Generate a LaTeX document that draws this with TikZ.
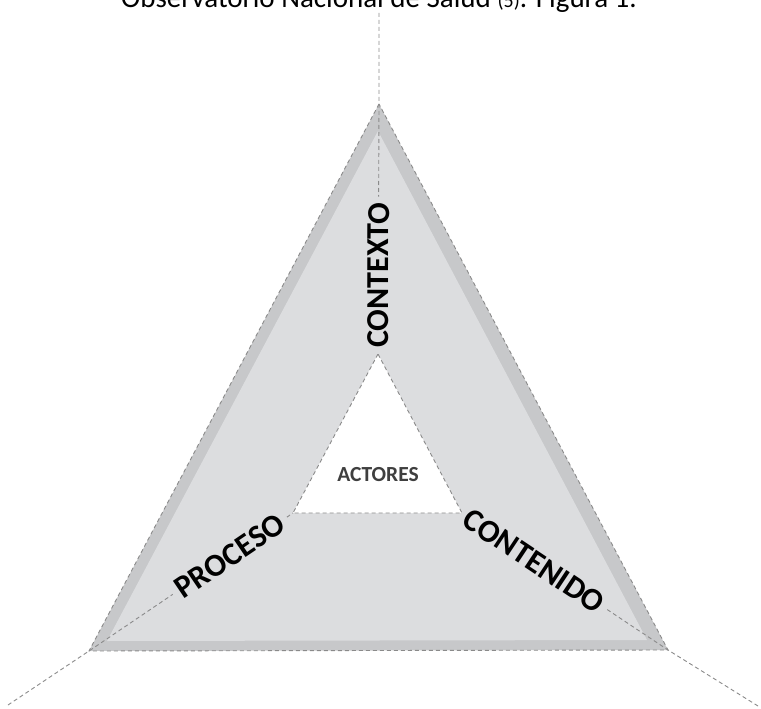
\documentclass[tikz,border=0pt]{standalone}
\usepackage{fontspec}
\setmainfont{Carlito}
\usepackage{tikz}
\usetikzlibrary{calc}
\definecolor{rimgray}{HTML}{C7C8CA}
\definecolor{facegray}{HTML}{DCDDDF}
\definecolor{dashgray}{HTML}{8A8A8A}
\definecolor{actorgray}{HTML}{3F3F3F}
\tikzset{
  guide/.style={draw=dashgray,line width=0.9pt,dash pattern=on 4pt off 3pt},
  sidelabel/.style={fill=facegray,sloped,text depth=0pt,
                    inner xsep=6pt,inner ysep=1pt,
                    font=\fontsize{32}{32}\selectfont\bfseries},
  centrelabel/.style={text=actorgray,text depth=0pt,
                      font=\fontsize{21.5}{21.5}\selectfont\bfseries},
  titletext/.style={anchor=base,font=\fontsize{29}{29}\selectfont}
}

\begin{document}
\begin{tikzpicture}[x=1pt,y=-1pt]
  \useasboundingbox (0,0) rectangle (761,709);
  \clip (0,0) rectangle (761,709);

  % outer triangle, its lighter face and the hollow centre
  \coordinate (top) at (379,104);
  \coordinate (left) at (89,651);
  \coordinate (right) at (668,650);
  \coordinate (ltop) at (378,131);
  \coordinate (lleft) at (107,641);
  \coordinate (lright) at (647,640);
  \coordinate (itop) at (378,354);
  \coordinate (ileft) at (293,513);
  \coordinate (iright) at (462,513);
  \coordinate (topend) at (379,13);
  \coordinate (leftend) at (8,705);
  \coordinate (rightend) at (758,706);

  \fill[rimgray] (top) -- (left) -- (right) -- cycle;
  \fill[facegray] (ltop) -- (lleft) -- (lright) -- cycle;
  \fill[white] (itop) -- (ileft) -- (iright) -- cycle;

  \draw[guide] (top) -- (left) -- (right) -- cycle;
  \draw[guide] (itop) -- (ileft) -- (iright) -- cycle;
  \draw[guide] (topend) -- (top) -- (itop);
  \draw[guide] (leftend) -- (left) -- (ileft);
  \draw[guide] (rightend) -- (right) -- (iright);

  % the three sides
  \path (itop) -- (top) node[sidelabel,pos=0.315] (contexto) {CONTEXTO};
  \path (left) -- (ileft) node[sidelabel,pos=0.69] (proceso) {PROCESO};
  \path (iright) -- (right) node[sidelabel,pos=0.35] (contenido) {CONTENIDO};

  \node[centrelabel] (actores) at (378,474) {ACTORES};

  \node[titletext] (titulo) at (379,8)
    {Observatorio Nacional de Salud {\fontsize{20}{20}\selectfont(5)}. Figura 1.};
\end{tikzpicture}
\end{document}
